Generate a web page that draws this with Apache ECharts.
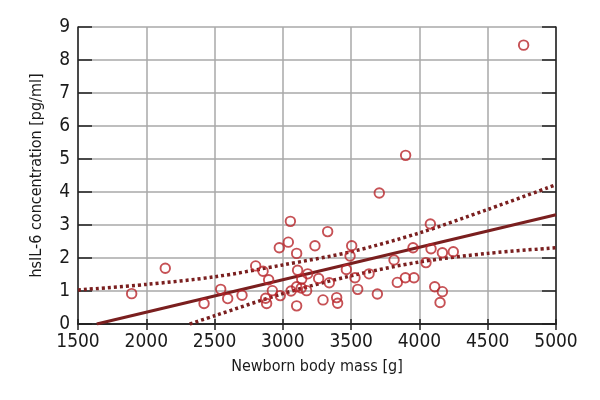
<!DOCTYPE html>
<html>
<head>
<meta charset="utf-8">
<script src="https://cdn.jsdelivr.net/npm/echarts@6/dist/echarts.min.js"></script>
<style>html,body{margin:0;padding:0;background:#fff}#c{width:600px;height:400px}</style>
</head>
<body>
<div id="c"></div>
<script>
// Newborn body mass [g]
const massX = [1893,2139,2423,2545,2596,2701,2801,2855,2896,2874,2881,2923,2974,2981,3040,3055,3060,3101,3108,3101,3101,3328,3235,3504,3492,3182,3138,3262,3340,3465,3528,3548,3135,3174,3294,3394,3401,4080,3953,4085,4168,4248,3814,4048,3631,3838,3897,3960,3692,4112,4168,4151,3899,3706,4763];
// hsIL-6 concentration [pg/ml]
const il6Y = [0.92,1.69,0.62,1.05,0.77,0.87,1.76,1.60,1.34,0.78,0.62,1.01,2.31,0.86,2.48,3.11,1.00,2.14,1.63,0.55,1.13,2.80,2.37,2.37,2.06,1.52,1.36,1.38,1.25,1.65,1.40,1.05,1.09,1.01,0.73,0.80,0.63,3.03,2.31,2.28,2.16,2.19,1.94,1.86,1.52,1.26,1.40,1.40,0.91,1.13,0.98,0.65,5.11,3.97,8.45];
// regression line
const fitX = [1637, 5000];
const fitY = [0, 3.31];
// upper confidence band
const upX = [1500,2000,2500,3000,3500,4000,4500,5000];
const upY = [1.03,1.20,1.43,1.79,2.19,2.76,3.47,4.22];
// lower confidence band
const loX = [2318,2500,3000,3500,4000,4500,5000];
const loY = [0,0.25,0.92,1.46,1.88,2.14,2.31];

const FONT = "'Liberation Sans Narrow','DejaVu Sans Condensed',sans-serif";
const zip = (a,b)=>a.map((v,i)=>[v,b[i]]);
const chart = echarts.init(document.getElementById('c'), null, {renderer:'canvas'});
const gridLine = {show:true, lineStyle:{color:'#a8a8a8', width:1.5}};
const frame = {show:true, lineStyle:{color:'#222', width:1.5}};
chart.setOption({
  animation:false,
  backgroundColor:'#fff',
  grid:{left:78, right:44, top:27, bottom:76},
  xAxis:[
    {type:'value', min:1500, max:5000, interval:500, position:'bottom',
     name:'Newborn body mass [g]', nameLocation:'middle', nameGap:35,
     nameTextStyle:{fontFamily:FONT, fontSize:16, color:'#1a1a1a'},
     axisLine:frame, axisTick:{show:true, inside:true, length:5, lineStyle:{color:'#222', width:1.5}},
     axisLabel:{fontFamily:FONT, fontSize:19, color:'#1a1a1a', margin:9, formatter:v=>String(v)},
     splitLine:gridLine},
    {type:'value', min:1500, max:5000, interval:500, position:'top',
     axisLine:frame, axisTick:{show:true, inside:true, length:6, lineStyle:{color:'#222', width:1.5}},
     axisLabel:{show:false}, splitLine:{show:false}}
  ],
  yAxis:[
    {type:'value', min:0, max:9, interval:1, position:'left',
     name:'hsIL-6 concentration [pg/ml]', nameLocation:'middle', nameGap:33,
     nameTextStyle:{fontFamily:FONT, fontSize:16, color:'#1a1a1a'},
     axisLine:frame, axisTick:{show:true, inside:true, length:14, lineStyle:{color:'#222', width:1.5}},
     axisLabel:{fontFamily:FONT, fontSize:19, color:'#1a1a1a', margin:8},
     splitLine:gridLine},
    {type:'value', min:0, max:9, interval:1, position:'right',
     axisLine:frame, axisTick:{show:true, inside:true, length:14, lineStyle:{color:'#222', width:1.5}},
     axisLabel:{show:false}, splitLine:{show:false}}
  ],
  series:[
    {type:'line', data:zip(upX,upY), symbol:'none', smooth:0.3, xAxisIndex:0, yAxisIndex:0,
     lineStyle:{color:'#7a1f1f', width:3.5, type:[3,3]}, z:3},
    {type:'line', data:zip(loX,loY), symbol:'none', smooth:0.3, xAxisIndex:0, yAxisIndex:0,
     lineStyle:{color:'#7a1f1f', width:3.5, type:[3,3]}, z:3},
    {type:'line', data:zip(fitX,fitY), symbol:'none', xAxisIndex:0, yAxisIndex:0,
     lineStyle:{color:'#7a1f1f', width:3}, z:3},
    {type:'scatter', data:zip(massX,il6Y), symbol:'circle', symbolSize:9.5, xAxisIndex:0, yAxisIndex:0,
     itemStyle:{color:'rgba(255,255,255,0)', borderColor:'#b8262b', borderWidth:1.9}, z:4}
  ]
});
</script>
</body>
</html>
